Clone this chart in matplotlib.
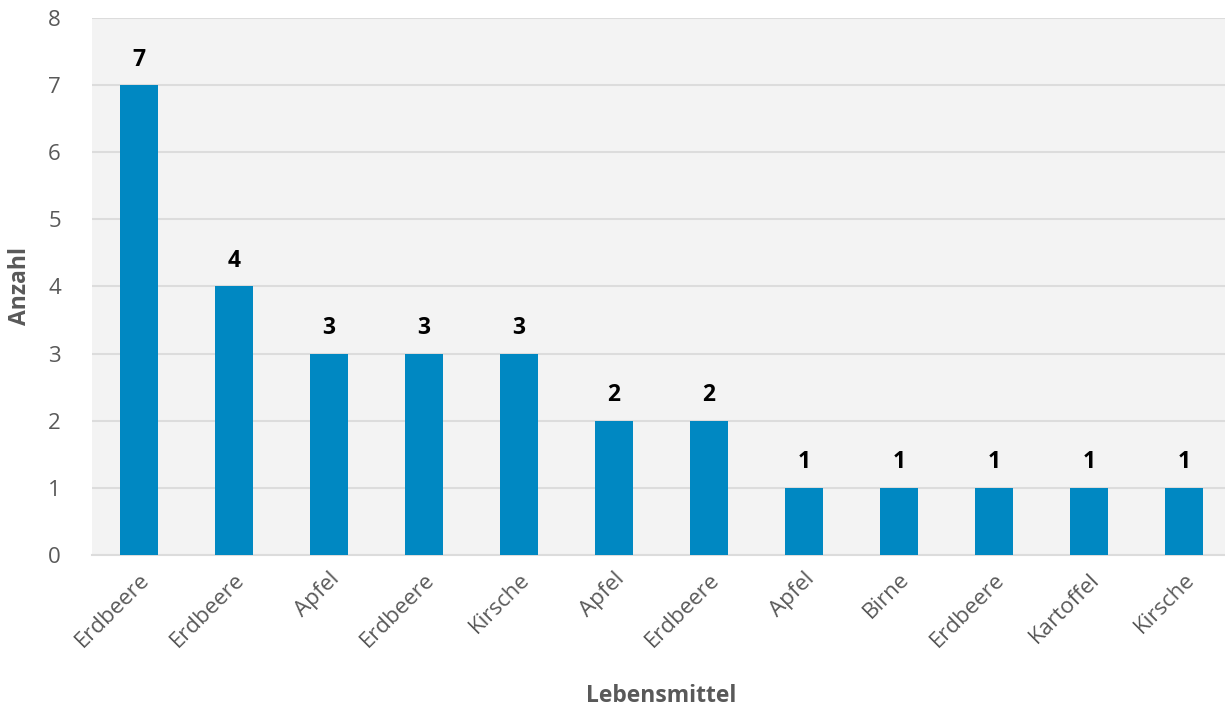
import matplotlib
matplotlib.use("Agg")
import matplotlib.pyplot as plt

categories = ["Erdbeere", "Erdbeere", "Apfel", "Erdbeere", "Kirsche", "Apfel",
              "Erdbeere", "Apfel", "Birne", "Erdbeere", "Kartoffel", "Kirsche"]
values = [7, 4, 3, 3, 3, 2, 2, 1, 1, 1, 1, 1]
y_ticks = [0, 1, 2, 3, 4, 5, 6, 7, 8]

plt.rcParams['font.family'] = ['Open Sans', 'DejaVu Sans']

fig = plt.figure(figsize=(12.25, 7.11), dpi=100)
ax = fig.add_axes([0.0747, 0.2194, 0.9306, 0.7553])
ax.set_facecolor('#f3f3f3')

x = list(range(len(categories)))
bars = ax.bar(x, values, width=0.4, color='#0088c2', zorder=3)
for xi, v in zip(x, values):
    ax.text(xi, v + 0.2, str(v), ha='center', va='bottom', fontsize=16.5,
            fontweight='bold', color='black')

ax.set_xlim(-0.5, len(categories) - 0.5)
ax.set_ylim(0, 8)
ax.set_yticks(y_ticks)
ax.set_yticklabels([str(t) for t in y_ticks], fontsize=16, color='#595959')
ax.set_xticks(x)
ax.set_xticklabels(categories, rotation=45, ha='right', rotation_mode='anchor',
                   fontsize=16, color='#595959')
ax.tick_params(axis='both', length=0)
ax.tick_params(axis='y', pad=22)
ax.tick_params(axis='x', pad=10)
ax.grid(axis='y', color='#dcdcdc', linewidth=1.5, zorder=0)
for s in ['top', 'right', 'left']:
    ax.spines[s].set_visible(False)
ax.spines['bottom'].set_color('#dcdcdc')
ax.spines['bottom'].set_linewidth(1.5)

ax.set_ylabel('Anzahl', fontsize=16.5, fontweight='bold', color='#595959', labelpad=12)
ax.set_xlabel('Lebensmittel', fontsize=16.5, fontweight='bold', color='#595959', labelpad=24)

fig.savefig('out.png', dpi=100)
